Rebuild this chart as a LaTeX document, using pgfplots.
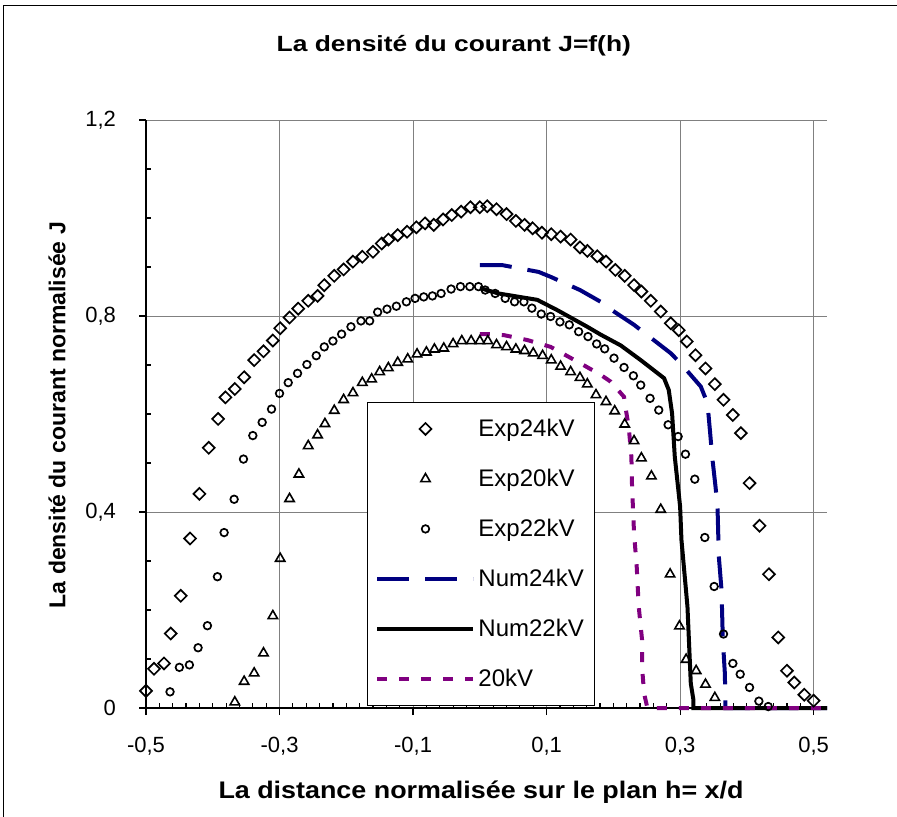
\documentclass[border=0pt]{standalone}
\usepackage{fontspec}
\setmainfont{Liberation Sans}
\newfontfamily\titlefont{Liberation Sans}[FakeStretch=1.2]
\newfontfamily\xlabfont{Liberation Sans}[FakeStretch=1.12]
\usepackage{pgfplots}
\pgfplotsset{compat=1.18}
\definecolor{navyx}{RGB}{0,0,128}
\definecolor{purplex}{RGB}{128,0,128}
\pgfplotsset{
  lineleg/.style={legend image code/.code={\draw[##1] (0pt,0pt) -- (48pt,0pt);}},
  markleg/.style={legend image code/.code={\draw[##1] plot coordinates {(24pt,0pt)};}},
}
\begin{document}
\begin{tikzpicture}
\useasboundingbox (0,0) rectangle (448.5pt,408pt);
\draw[line width=0.75pt] (1.75pt,-5pt) -- (1.75pt,405.25pt) -- (460pt,405.25pt);
\begin{axis}[
  at={(73pt,54pt)}, anchor=south west,
  width=340.5pt, height=294pt, scale only axis,
  xmin=-0.5, xmax=0.52, ymin=0, ymax=1.2,
  clip=false,
  axis x line*=bottom, axis y line*=left,
  axis line style={black, line width=0.8pt},
  xtick={-0.5,-0.3,-0.1,0.1,0.3,0.5},
  xticklabels={{-0,5},{-0,3},{-0,1},{0,1},{0,3},{0,5}},
  ytick={0,0.4,0.8,1.2},
  yticklabels={0,{0,4},{0,8},{1,2}},
  minor x tick num=9, minor y tick num=3,
  tick align=outside,
  major tick length=3.5pt, minor tick length=2.5pt,
  minor x tick style={yshift=2.5pt},
  minor y tick style={xshift=2.5pt},
  tick style={black, line width=0.6pt},
  xmajorgrids, ymajorgrids,
  grid style={gray, line width=0.5pt},
  tick label style={font=\fontsize{11}{12}\selectfont},
  xticklabel style={yshift=-7.5pt},
  yticklabel style={xshift=-8pt},
  title={\titlefont\bfseries La densité du courant J=f(h)},
  title style={at={(axis description cs:0.452,1)}, anchor=center, yshift=31pt, font=\fontsize{11}{13}\selectfont},
  xlabel={\xlabfont\bfseries La distance normalisée sur le plan h= x/d},
  xlabel style={at={(axis description cs:0.492,0)}, anchor=center, yshift=-42pt, font=\fontsize{12}{14}\selectfont},
  ylabel={\bfseries La densité du courant normalisée J},
  ylabel style={at={(axis description cs:0,0.498)}, anchor=center, yshift=44.5pt, font=\fontsize{11.5}{13}\selectfont},
  legend style={at={(0.3245,0.520)}, anchor=north west, draw=black, line width=0.5pt, fill=white,
    font=\fontsize{12}{14}\selectfont, row sep=10.8pt, column sep=0pt, inner xsep=4pt, inner ysep=6pt,
    nodes={inner xsep=1.5pt}},
  legend cell align=left,
]
\addplot[only marks, black, mark=square, mark size=2.1pt, mark options={rotate=45, line width=0.85pt}, markleg] coordinates {
(-0.500,0.035) (-0.488,0.080) (-0.473,0.091) (-0.463,0.152) (-0.448,0.229) (-0.434,0.346) (-0.420,0.437) (-0.406,0.531) (-0.392,0.590) (-0.381,0.634) (-0.367,0.651) (-0.353,0.675) (-0.338,0.710) (-0.324,0.728) (-0.310,0.750) (-0.299,0.775) (-0.285,0.797) (-0.272,0.815) (-0.257,0.831) (-0.243,0.841) (-0.233,0.863) (-0.218,0.882) (-0.204,0.895) (-0.190,0.911) (-0.176,0.921) (-0.160,0.931) (-0.147,0.948) (-0.137,0.956) (-0.123,0.965) (-0.109,0.972) (-0.095,0.981) (-0.082,0.989) (-0.069,0.986) (-0.055,0.997) (-0.042,1.006) (-0.028,1.013) (-0.014,1.022) (0.000,1.022) (0.011,1.024) (0.025,1.018) (0.040,1.008) (0.054,0.994) (0.067,0.986) (0.079,0.979) (0.093,0.970) (0.107,0.967) (0.121,0.962) (0.136,0.956) (0.150,0.940) (0.161,0.933) (0.176,0.922) (0.189,0.911) (0.203,0.894) (0.217,0.882) (0.231,0.863) (0.242,0.850) (0.256,0.831) (0.271,0.809) (0.286,0.785) (0.298,0.771) (0.310,0.748) (0.323,0.720) (0.338,0.693) (0.352,0.661) (0.365,0.629) (0.379,0.598) (0.391,0.561) (0.404,0.459) (0.419,0.372) (0.433,0.273) (0.447,0.144) (0.460,0.076) (0.471,0.052) (0.486,0.027) (0.500,0.015)
};
\addlegendentry{Exp24kV}
\addplot[only marks, black, mark=triangle, mark size=2.7pt, mark options={line width=0.8pt}, markleg] coordinates {
(-0.367,0.012) (-0.353,0.054) (-0.338,0.071) (-0.324,0.112) (-0.310,0.188) (-0.299,0.305) (-0.285,0.427) (-0.271,0.477) (-0.257,0.535) (-0.243,0.557) (-0.232,0.580) (-0.218,0.607) (-0.204,0.629) (-0.190,0.643) (-0.176,0.664) (-0.162,0.671) (-0.150,0.686) (-0.137,0.694) (-0.123,0.705) (-0.108,0.712) (-0.094,0.722) (-0.080,0.726) (-0.068,0.732) (-0.054,0.734) (-0.040,0.743) (-0.027,0.749) (-0.013,0.749) (0.000,0.749) (0.012,0.749) (0.025,0.741) (0.040,0.737) (0.054,0.732) (0.067,0.729) (0.080,0.724) (0.094,0.719) (0.107,0.710) (0.121,0.697) (0.136,0.686) (0.150,0.674) (0.161,0.661) (0.174,0.639) (0.189,0.625) (0.202,0.606) (0.217,0.579) (0.231,0.545) (0.242,0.510) (0.257,0.473) (0.271,0.405) (0.285,0.273) (0.299,0.167) (0.309,0.099) (0.324,0.076) (0.338,0.048) (0.352,0.021)
};
\addlegendentry{Exp20kV}
\addplot[only marks, black, mark=o, mark size=1.9pt, mark options={line width=0.85pt}, markleg] coordinates {
(-0.464,0.033) (-0.450,0.083) (-0.435,0.088) (-0.422,0.123) (-0.408,0.168) (-0.393,0.268) (-0.383,0.358) (-0.368,0.426) (-0.354,0.508) (-0.340,0.556) (-0.326,0.583) (-0.312,0.610) (-0.300,0.642) (-0.287,0.664) (-0.273,0.683) (-0.259,0.701) (-0.245,0.719) (-0.233,0.737) (-0.220,0.749) (-0.207,0.763) (-0.193,0.778) (-0.178,0.790) (-0.165,0.790) (-0.153,0.808) (-0.139,0.814) (-0.125,0.820) (-0.110,0.829) (-0.097,0.836) (-0.084,0.839) (-0.071,0.841) (-0.058,0.846) (-0.043,0.855) (-0.029,0.860) (-0.015,0.860) (-0.002,0.860) (0.008,0.853) (0.023,0.846) (0.038,0.836) (0.052,0.829) (0.066,0.829) (0.078,0.816) (0.092,0.804) (0.106,0.799) (0.120,0.788) (0.134,0.782) (0.148,0.768) (0.162,0.758) (0.175,0.743) (0.187,0.733) (0.201,0.714) (0.216,0.695) (0.230,0.678) (0.241,0.659) (0.255,0.632) (0.268,0.608) (0.282,0.578) (0.297,0.554) (0.308,0.518) (0.322,0.467) (0.337,0.348) (0.351,0.248) (0.365,0.151) (0.379,0.091) (0.390,0.069) (0.404,0.042) (0.418,0.014) (0.432,0.003)
};
\addlegendentry{Exp22kV}
\addplot[navyx, line width=2pt, dash pattern=on 16pt off 8pt, no marks, lineleg] coordinates {
(0,0.904) (0.033,0.904) (0.088,0.890) (0.106,0.880) (0.150,0.853) (0.181,0.829) (0.190,0.819) (0.231,0.782) (0.286,0.724) (0.301,0.703) (0.331,0.656) (0.341,0.622) (0.345,0.561) (0.348,0.513) (0.353,0.452) (0.356,0.411) (0.358,0.309) (0.362,0.241) (0.364,0.139) (0.367,0.071) (0.368,0) (0.52,0)
};
\addlegendentry{Num24kV}
\addplot[black, line width=2pt, no marks, lineleg] coordinates {
(0,0.857) (0.028,0.846) (0.086,0.833) (0.116,0.812) (0.161,0.778) (0.181,0.762) (0.211,0.740) (0.241,0.710) (0.276,0.673) (0.283,0.649) (0.288,0.601) (0.292,0.513) (0.300,0.411) (0.302,0.343) (0.311,0.207) (0.316,0.050) (0.320,0.016) (0.320,0) (0.52,0)
};
\addlegendentry{Num22kV}
\addplot[purplex, line width=2pt, dash pattern=on 5pt off 6pt, no marks, lineleg] coordinates {
(0,0.763) (0.013,0.763) (0.036,0.761) (0.071,0.751) (0.106,0.737) (0.146,0.707) (0.181,0.680) (0.196,0.666) (0.216,0.635) (0.218,0.615) (0.223,0.574) (0.227,0.513) (0.228,0.452) (0.231,0.357) (0.235,0.288) (0.238,0.207) (0.243,0.139) (0.243,0.084) (0.246,0.030) (0.251,0) (0.52,0)
};
\addlegendentry{20kV}
\end{axis}
\end{tikzpicture}
\end{document}
